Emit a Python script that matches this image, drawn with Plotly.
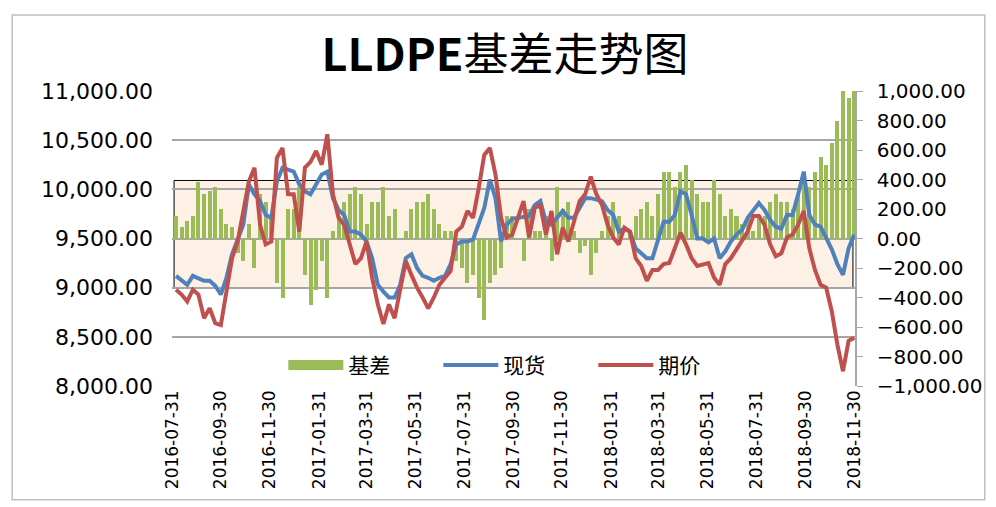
import pandas as pd
import plotly.graph_objects as go

# weekly readings (Fridays) from 2016-08-05 to 2018-11-30
dates = pd.date_range("2016-08-05", periods=122, freq="7D")

# 现货 (spot), left axis
spot = [9120, 9070, 9030, 9120, 9100, 9070, 9070, 9020, 8930, 9100,
        9340, 9500, 9640, 10050, 9950, 9880, 9740, 9710, 10080, 10220,
        10200, 10180, 10050, 9980, 9950, 10050, 10150, 10180, 9910, 9790,
        9740, 9570, 9570, 9540, 9470, 9300, 9030, 8960, 8900, 8900,
        9030, 9300, 9340, 9200, 9120, 9100, 9070, 9100, 9120, 9240,
        9440, 9470, 9470, 9490, 9640, 9810, 10100, 9910, 9470, 9640, 9700,
        9710, 9710, 9730, 9840, 9880, 9670, 9640, 9710, 9780, 9710,
        9710, 9810, 9910, 9910, 9900, 9880, 9790, 9740, 9570, 9600,
        9570, 9400, 9350, 9300, 9300, 9470, 9670, 9670, 9740, 9980,
        9950, 9740, 9500, 9500, 9460, 9500, 9300, 9370, 9470, 9540, 9590,
        9710, 9780, 9860, 9790, 9690, 9620, 9600, 9740, 9740, 9950,
        10180, 9740, 9640, 9620, 9500, 9390, 9240, 9130, 9400, 9540]

# 期价 (futures), left axis
futures = [8980, 8930, 8860, 8980, 8930, 8690, 8790, 8640, 8620, 8990,
           9300, 9470, 9780, 10080, 10220, 9640, 9440, 9470, 10320, 10420,
           9950, 9950, 9570, 10220, 10280, 10390, 10250, 10560, 9950, 9710,
           9640, 9440, 9240, 9300, 9470, 9100, 8830, 8630, 8830, 8690,
           8960, 9270, 9130, 9000, 8900, 8790, 8900, 9030, 9100, 9170,
           9570, 9620, 9780, 9710, 10010, 10350, 10420, 10150, 9710, 9510, 9540,
           9710, 9880, 9510, 9810, 9840, 9540, 9780, 9340, 9610, 9470,
           9670, 9880, 9950, 10130, 9950, 9840, 9640, 9510, 9440, 9610,
           9570, 9300, 9220, 9070, 9180, 9180, 9240, 9250, 9400, 9560,
           9440, 9300, 9220, 9240, 9250, 9100, 9030, 9240, 9300, 9390, 9490,
           9570, 9730, 9730, 9640, 9440, 9320, 9350, 9510, 9540, 9640,
           9780, 9400, 9180, 9030, 9000, 8760, 8420, 8150, 8460, 8490]

# 基差 (basis), right axis
basis = [150, 80, 120, 150, 380, 300, 320, 350, 200, 100,
         80, -100, -150, 100, -200, 300, 250, 150, -300, -400,
         200, 200, 350, -250, -450, -350, -150, -400, 50, 150,
         250, 300, 350, 300, 100, 250, 250, 350, 150, 200,
         0, 50, 200, 250, 250, 300, 200, 100, 50, 50,
         -150, -200, -300, -250, -400, -550, -300, -250, -200, 150, 150,
         0, -150, 200, 50, 50, 150, -150, 350, 200, 250,
         50, -100, -50, -250, -100, 50, 150, 250, 150, 0,
         50, 150, 200, 250, 150, 300, 450, 450, 350, 450,
         500, 400, 300, 250, 250, 400, 300, 150, 200, 150, 100,
         150, 50, 150, 150, 250, 300, 250, 250, 200, 300,
         400, 350, 450, 550, 500, 650, 800, 1000, 950, 1000]

tick_dates = ["2016-07-31", "2016-09-30", "2016-11-30", "2017-01-31",
              "2017-03-31", "2017-05-31", "2017-07-31", "2017-09-30",
              "2017-11-30", "2018-01-31", "2018-03-31", "2018-05-31",
              "2018-07-31", "2018-09-30", "2018-11-30"]

CJK = "Noto Sans CJK SC"
GREEN, BLUE, RED = "#9BBB59", "#4F81BD", "#C0504D"

fig = go.Figure()
fig.add_trace(go.Bar(x=dates, y=basis, name="基差", yaxis="y",
                     marker=dict(color=GREEN, line=dict(width=0)),
                     width=5 * 86400000, showlegend=False))
# legend entry drawn as a wide green block, like the original
fig.add_trace(go.Scatter(x=[None], y=[None], name="基差", yaxis="y",
                         mode="lines", line=dict(color=GREEN, width=11)))
fig.add_trace(go.Scatter(x=dates, y=spot, name="现货", yaxis="y2",
                         mode="lines", line=dict(color=BLUE, width=4)))
fig.add_trace(go.Scatter(x=dates, y=futures, name="期价", yaxis="y2",
                         mode="lines", line=dict(color=RED, width=4)))

# shaded band
fig.add_shape(type="rect", xref="paper", yref="y2", x0=0.003, x1=0.997,
              y0=9000, y1=10090, layer="below",
              fillcolor="#FDF1E5", line=dict(color="#000000", width=1))
# chart border
fig.add_shape(type="rect", xref="paper", yref="paper", x0=-0.234, x1=1.19,
              y0=-0.386, y1=1.258, layer="below",
              line=dict(color="#BFBFBF", width=1.5))

# page body has an 8px margin, so the figure is a bit smaller than the window
fig.update_layout(
    width=988, height=499,
    margin=dict(l=164, r=141, t=83, b=121, autoexpand=False),
    paper_bgcolor="#FFFFFF", plot_bgcolor="#FFFFFF",
    title=dict(text="<b>LLDPE</b>基差走势图", x=0.503, xanchor="center",
               y=0.905, yanchor="middle",
               font=dict(family=CJK, size=45, color="#000000")),
    showlegend=True,
    legend=dict(orientation="h", x=0.163, xanchor="left", y=0.07,
                yanchor="middle", bgcolor="rgba(0,0,0,0)", itemwidth=55,
                entrywidth=85,
                font=dict(family=CJK, size=21, color="#000000"),
                traceorder="normal"),
    bargap=0,
    xaxis=dict(type="date", range=["2016-07-31", "2018-12-01"],
               tickvals=tick_dates, ticktext=tick_dates, tickangle=-90,
               tickfont=dict(family="DejaVu Sans", size=17, color="#000000"),
               showgrid=False, showline=False, zeroline=False, ticks="",
               automargin=False),
    yaxis=dict(side="right", range=[-1000, 1000], dtick=200,
               tickformat=",.2f",
               tickfont=dict(family="DejaVu Sans", size=20, color="#000000"),
               showgrid=False, zeroline=False, showline=True,
               linecolor="#A6A6A6", linewidth=1.5, ticks="outside",
               ticklen=6, tickcolor="#A6A6A6", ticklabelstandoff=10,
               automargin=False),
    yaxis2=dict(side="left", overlaying="y", range=[8000, 11000], dtick=500,
                tickformat=",.2f",
                tickfont=dict(family="DejaVu Sans", size=22, color="#000000"),
                showgrid=True, gridcolor="#A6A6A6", gridwidth=1.5,
                zeroline=False, showline=False, ticks="",
                ticklabelstandoff=18, automargin=False),
)

fig.write_html("out.html")
